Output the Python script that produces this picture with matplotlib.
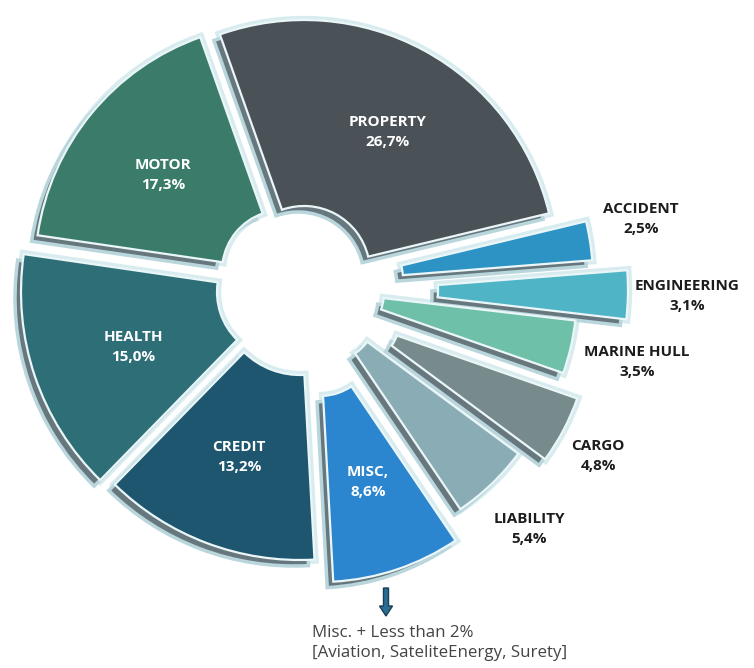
import numpy as np
import matplotlib.pyplot as plt
from matplotlib.patches import Wedge, FancyArrow

# data (clockwise from the top)
labels = ['PROPERTY', 'ACCIDENT', 'ENGINEERING', 'MARINE HULL', 'CARGO',
          'LIABILITY', 'MISC,', 'CREDIT', 'HEALTH', 'MOTOR']
shares = [26.7, 2.5, 3.1, 3.5, 4.8, 5.4, 8.6, 13.2, 15.0, 17.3]
note_lines = ['Misc. + Less than 2%', '[Aviation, SateliteEnergy, Surety]']

# styling
colors = ['#4a5157', '#2d93c4', '#4fb5c6', '#6fc0a8', '#778b8c',
          '#8aacb5', '#2c86cf', '#1e5670', '#2e6f77', '#3a7c69']
inside = [True, False, False, False, False, False, True, True, True, True]
# per-slice explode offsets (px, y up), inner / outer radius
offsets = [(24, -7), (61, -15), (95, -25), (51, -27), (81, -58),
           (47, -47), (40, -75), (20, -30), (4, -27), (3, -6)]
r_in = [66, 62, 63, 53, 38, 50, 56, 80, 67, 61]
r_out = [252, 252, 253, 246, 229, 238, 242, 265, 263, 248]
lab_dist = [163, 306, 312, 314, 272, 297, 150, 173, 160, 154]
lab_nudge = [-2.4, 2.6, 0, 0, -1.5, -0.8, 0, 0, 1.3, 0.7]

W, H = 754, 668
cx, cy = 280, H - 265
start = 109.5
shadow = (-6, -6)

fig = plt.figure(figsize=(W / 100, H / 100), dpi=100)
ax = fig.add_axes([0, 0, 1, 1])
ax.set_xlim(0, W)
ax.set_ylim(0, H)
ax.axis('off')

total = sum(shares)
spans = [360 * v / total for v in shares]
ends = start - np.cumsum(spans)
begins = ends + np.array(spans)

apex = [(cx + dx, cy + dy) for dx, dy in offsets]

# glow + grey extrusion
for i in range(len(shares)):
    ax.add_patch(Wedge(apex[i], r_out[i], ends[i], begins[i], width=r_out[i] - r_in[i],
                       facecolor='none', edgecolor='#cfe8ed', lw=6, alpha=0.8, zorder=1))
    sc = (apex[i][0] + shadow[0], apex[i][1] + shadow[1])
    ax.add_patch(Wedge(sc, r_out[i], ends[i], begins[i], width=r_out[i] - r_in[i],
                       facecolor='#66777d', edgecolor='#b9d6dc', lw=2.5, zorder=2))

# faces
for i in range(len(shares)):
    ax.add_patch(Wedge(apex[i], r_out[i], ends[i], begins[i], width=r_out[i] - r_in[i],
                       facecolor=colors[i], edgecolor='#eaf6f8', lw=1.6, zorder=3))

# labels
for i, name in enumerate(labels):
    mid = np.deg2rad((begins[i] + ends[i]) / 2 + lab_nudge[i])
    x = apex[i][0] + lab_dist[i] * np.cos(mid)
    y = apex[i][1] + lab_dist[i] * np.sin(mid)
    pct = f'{shares[i]:.1f}'.replace('.', ',') + '%'
    ax.text(x, y, f'{name}\n{pct}', ha='center', va='center', fontsize=11,
            fontweight='bold', family='Open Sans', linespacing=1.55,
            color='white' if inside[i] else '#1c1c1c', zorder=5)

# note under misc
ax.add_patch(FancyArrow(386, H - 588, 0, -28, width=5, head_width=13, head_length=10,
                        length_includes_head=True, fc='#2a6d93', ec='#173e55', lw=1, zorder=5))
ax.text(312, H - 643, '\n'.join(note_lines), ha='left', va='center', fontsize=12.2,
        family='Open Sans', color='#444444', linespacing=1.3)

fig.savefig('out.png', dpi=100)
